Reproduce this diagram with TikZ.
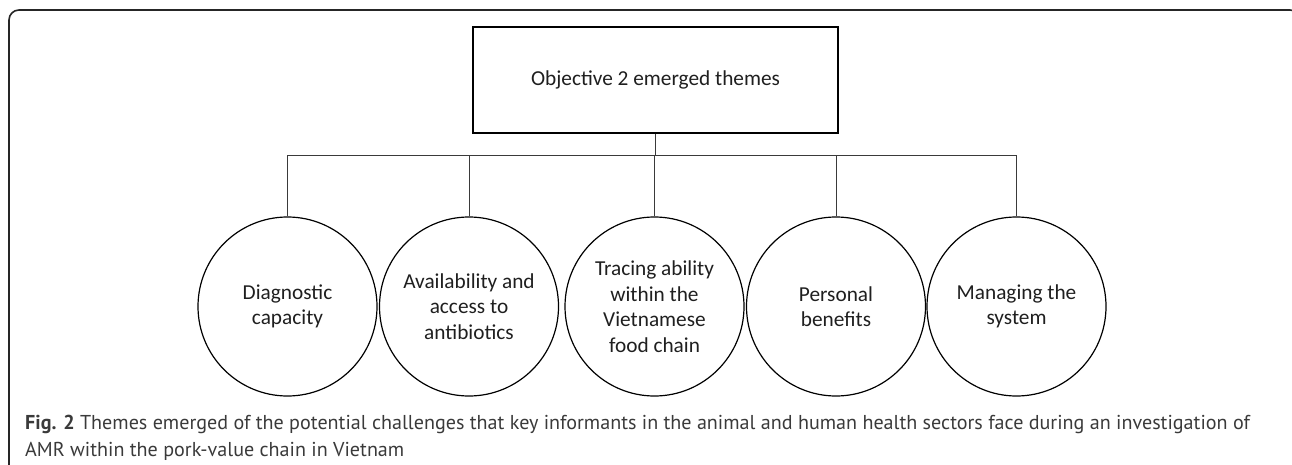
\documentclass[tikz,border=0pt]{standalone}
\usepackage{fontspec}
\setmainfont{Carlito}
\newfontfamily\capfont{PT Sans}
\definecolor{linegray}{HTML}{3A3A3A}
\definecolor{captext}{HTML}{3A3A3A}
\begin{document}
\begin{tikzpicture}[x=1pt,y=-1pt,
  theme/.style={circle,draw=black,line width=1.2pt,minimum size=179pt,inner sep=0pt,align=center,
    font=\fontsize{21.3}{25.5}\selectfont,text=black!88},
  topbox/.style={rectangle,draw=black,line width=1.1pt,minimum width=365pt,minimum height=106pt,
    font=\fontsize{21.3}{25.5}\selectfont,text=black!88},
  conn/.style={draw=linegray,line width=0.9pt},
  frame/.style={draw=black!85,line width=1.6pt,rounded corners=10pt},
  captxt/.style={anchor=base west,inner sep=0pt,text=captext,font=\capfont\fontsize{20.1}{25}\selectfont}]
\useasboundingbox (0,0) rectangle (1292,465);
\begin{scope}
\clip (0,0) rectangle (1292,465);
\draw[frame] (9,480) -- (9,10) -- (1300,10) -- (1300,480);
\end{scope}
\node[topbox] (top) at (655.5,80) {Objective 2 emerged themes};
\node[theme] (c1) at (287.5,306.5) {Diagnostic\\capacity};
\node[theme] (c2) at (469,306.5) {Availability and\\access to\\antibiotics};
\node[theme] (c3) at (654.5,306.5) {Tracing ability\\within the\\Vietnamese\\food chain};
\node[theme] (c4) at (836,306.5) {Personal\\benefits};
\node[theme] (c5) at (1016.5,306.5) {Managing the\\system};
\coordinate (bar) at (287,155);
\draw[conn] (top.south) -- (top.south |- bar);
\draw[conn] (c1.north) -- (c1.north |- bar) -- (c5.north |- bar) -- (c5.north);
\draw[conn] (c2.north) -- (c2.north |- bar);
\draw[conn] (c3.north) -- (c3.north |- bar);
\draw[conn] (c4.north) -- (c4.north |- bar);
\node[captxt] (cap1) at (25,429) {\textbf{Fig. 2} Themes emerged of the potential challenges that key informants in the animal and human health sectors face during an investigation of};
\node[captxt] (cap2) at (25,456) {AMR within the pork-value chain in Vietnam};
\end{tikzpicture}
\end{document}
